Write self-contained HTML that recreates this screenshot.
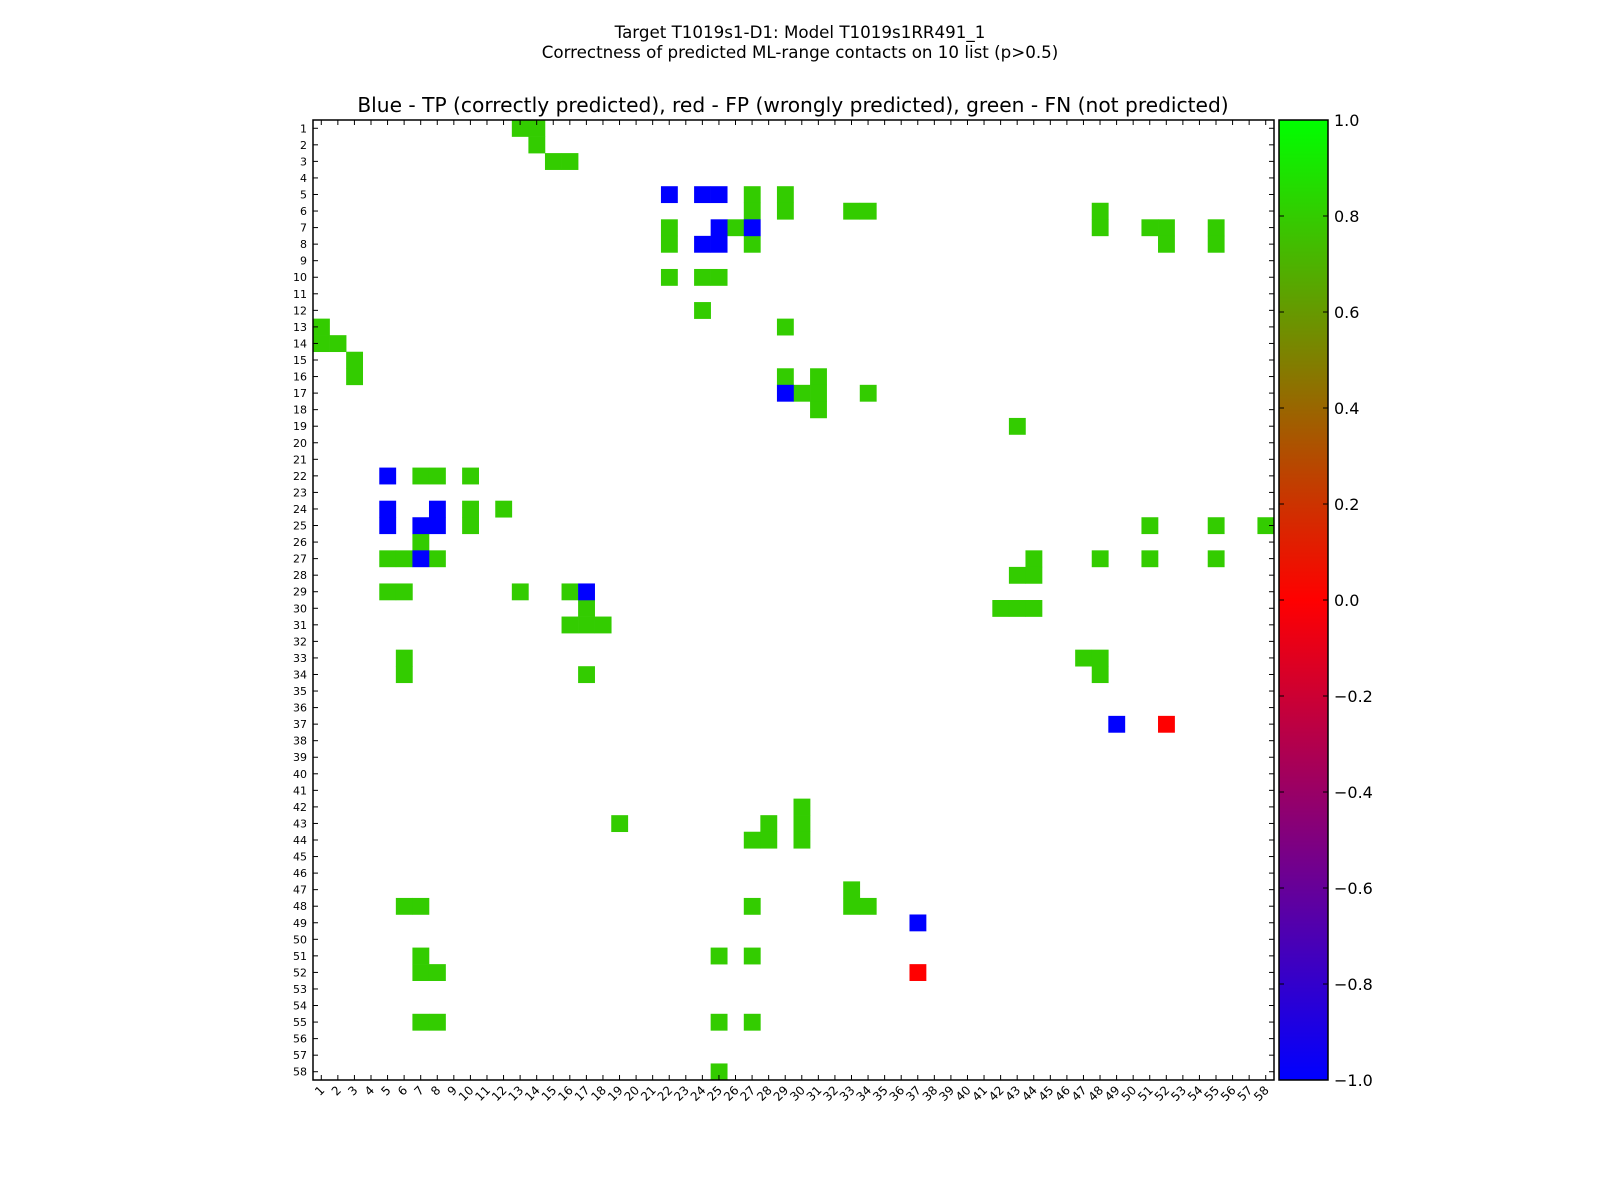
<!DOCTYPE html>
<html><head><meta charset="utf-8"><style>
body{margin:0;background:#fff;}
svg{display:block;font-family:"DejaVu Sans","Liberation Sans",sans-serif;}
</style></head><body>
<svg id="chart" width="1600" height="1200" xmlns="http://www.w3.org/2000/svg">
<defs><linearGradient id="cbg" x1="0" y1="1" x2="0" y2="0">
<stop offset="0" stop-color="#0000ff"/><stop offset="0.5" stop-color="#ff0000"/><stop offset="1" stop-color="#00ff00"/></linearGradient></defs>
<text x="800" y="38" font-size="16.7" text-anchor="middle">Target T1019s1-D1: Model T1019s1RR491_1</text>
<text x="800" y="58" font-size="16.7" text-anchor="middle">Correctness of predicted ML-range contacts on 10 list (p&gt;0.5)</text>
<text x="793" y="112" font-size="20.2" text-anchor="middle">Blue - TP (correctly predicted), red - FP (wrongly predicted), green - FN (not predicted)</text>
<g id="cells"></g>
<g id="ticks"></g>
<rect x="313" y="120" width="961" height="960" fill="none" stroke="#000" stroke-width="1.5"/>
<rect x="1279" y="120" width="49" height="960" fill="url(#cbg)" stroke="#000" stroke-width="1.5"/>
<g id="cbticks"></g>
</svg>
<script>
const N = 58;
const tpCells = [[5,22],[5,24],[5,25],[7,25],[7,27],[8,24],[8,25],[17,29],[22,5],[24,5],[24,8],[25,5],[25,7],[25,8],[27,7],[29,17],[37,49],[49,37]];
const fpCells = [[37,52],[52,37]];
const fnCells = [[1,13],[1,14],[2,14],[3,15],[3,16],[5,27],[5,29],[6,27],[6,29],[6,33],[6,34],[6,48],
[7,22],[7,26],[7,48],[7,51],[7,52],[7,55],[8,22],[8,27],[8,52],[8,55],[10,22],[10,24],[10,25],[12,24],
[13,1],[13,29],[14,1],[14,2],[15,3],[16,3],[16,29],[16,31],[17,30],[17,31],[17,34],[18,31],[19,43],
[22,7],[22,8],[22,10],[24,10],[24,12],[25,10],[25,51],[25,55],[25,58],[26,7],[27,5],[27,6],[27,8],[27,44],[27,48],[27,51],[27,55],
[28,43],[28,44],[29,5],[29,6],[29,13],[29,16],[30,17],[30,42],[30,43],[30,44],[31,16],[31,17],[31,18],
[33,6],[33,47],[33,48],[34,6],[34,17],[34,48],[42,30],[43,19],[43,28],[43,30],[44,27],[44,28],[44,30],
[47,33],[48,6],[48,7],[48,27],[48,33],[48,34],[51,7],[51,25],[51,27],[52,7],[52,8],[55,7],[55,8],[55,25],[55,27],[58,25]];
const cbTicks = [1.0,0.8,0.6,0.4,0.2,0.0,-0.2,-0.4,-0.6,-0.8,-1.0];

const X0=313,Y0=120,W=961,H=960;
const cw=W/N, ch=H/N;
const xs=c=>X0+(c-1)*cw, ys=r=>Y0+(r-1)*ch;
const cbY=v=>Y0+(1-v)/2*H;
const NS="http://www.w3.org/2000/svg";
function mk(t,a,p){const e=document.createElementNS(NS,t);for(const k in a)e.setAttribute(k,a[k]);p.appendChild(e);return e;}
const cells=document.getElementById('cells');
function draw(list,color,kind){list.forEach(([r,c])=>{
 const e=mk('rect',{x:xs(c),y:ys(r),width:cw+0.3,height:ch+0.3,fill:color},cells);
 
 
});}
draw(fnCells,'#33cc00','fn');draw(tpCells,'#0000ff','tp');draw(fpCells,'#ff0000','fp');
const tk=document.getElementById('ticks');
for(let i=1;i<=N;i++){
 const cx=xs(i)+cw/2, cy=ys(i)+ch/2;
 mk('line',{x1:cx,x2:cx,y1:Y0,y2:Y0+5,stroke:'#000'},tk);
 mk('line',{x1:cx,x2:cx,y1:Y0+H,y2:Y0+H-5,stroke:'#000'},tk);
 mk('line',{x1:X0,x2:X0+5,y1:cy,y2:cy,stroke:'#000'},tk);
 mk('line',{x1:X0+W,x2:X0+W-5,y1:cy,y2:cy,stroke:'#000'},tk);
 const yl=mk('text',{x:X0-6,y:cy+4,'font-size':11,'text-anchor':'end'},tk);yl.textContent=i;
 
 
 const xl=mk('text',{x:cx+4,y:Y0+H+11,'font-size':12,'text-anchor':'end',transform:`rotate(-45 ${cx+4} ${Y0+H+11})`},tk);xl.textContent=i;
 
 
}
const cbt=document.getElementById('cbticks');
cbTicks.forEach(v=>{
 const y=cbY(v);
 mk('line',{x1:1279,x2:1284,y1:y,y2:y,stroke:'#000'},cbt);
 mk('line',{x1:1328,x2:1323,y1:y,y2:y,stroke:'#000'},cbt);
 const t=mk('text',{x:1334,y:y+6,'font-size':16},cbt);
 t.textContent=(v<0?'\u2212':'')+Math.abs(v).toFixed(1);
 
 
});
</script>
</body></html>
